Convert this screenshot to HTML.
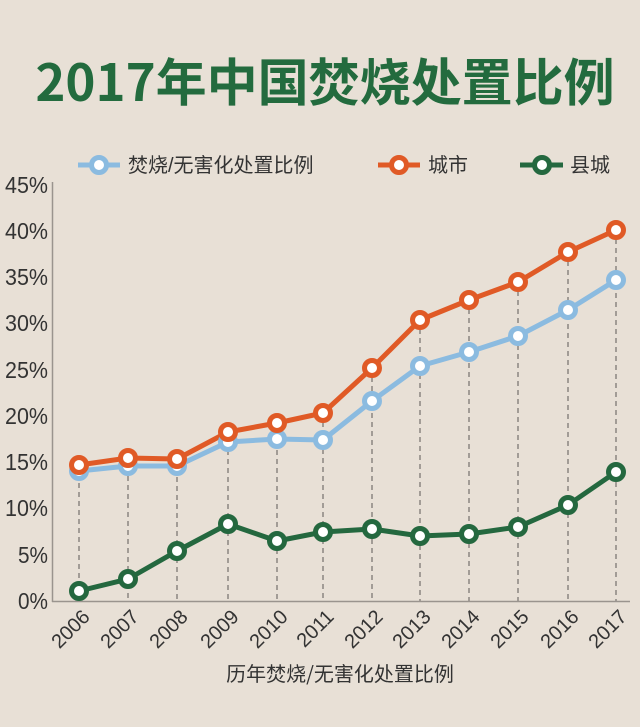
<!DOCTYPE html>
<html><head><meta charset="utf-8">
<style>
html,body{margin:0;padding:0;background:#e8e0d6;}
svg{display:block;}
text{font-family:"Liberation Sans","Noto Sans CJK SC",sans-serif;}
</style></head>
<body>
<svg width="640" height="727" viewBox="0 0 640 727" xmlns="http://www.w3.org/2000/svg">
<rect width="640" height="727" fill="#e8e0d6"/>
<text x="325" y="101" text-anchor="middle" font-size="51" font-weight="bold" fill="#236b3e" style="font-family:'Noto Sans CJK SC','Liberation Sans',sans-serif">2017年中国焚烧处置比例</text>

<!-- legend -->
<g stroke-width="5" fill="#fff">
<line x1="78" y1="165" x2="120" y2="165" stroke="#8bbbe0"/>
<circle cx="99" cy="165" r="7.5" stroke="#8bbbe0"/>
<line x1="378" y1="165" x2="420" y2="165" stroke="#e05a26"/>
<circle cx="399" cy="165" r="7.5" stroke="#e05a26"/>
<line x1="520" y1="165" x2="563" y2="165" stroke="#24683f"/>
<circle cx="542" cy="165" r="7.5" stroke="#24683f"/>
</g>
<g font-size="20" fill="#333" style="font-family:'Noto Sans CJK SC','Liberation Sans',sans-serif">
<text x="128" y="172">焚烧/无害化处置比例</text>
<text x="428" y="172">城市</text>
<text x="570" y="172">县城</text>
</g>

<!-- y labels -->
<g font-size="23" fill="#333">
<text x="5" y="193" textLength="43" lengthAdjust="spacingAndGlyphs">45%</text>
<text x="5" y="239" textLength="43" lengthAdjust="spacingAndGlyphs">40%</text>
<text x="5" y="285" textLength="43" lengthAdjust="spacingAndGlyphs">35%</text>
<text x="5" y="331" textLength="43" lengthAdjust="spacingAndGlyphs">30%</text>
<text x="5" y="378" textLength="43" lengthAdjust="spacingAndGlyphs">25%</text>
<text x="5" y="424" textLength="43" lengthAdjust="spacingAndGlyphs">20%</text>
<text x="5" y="470" textLength="43" lengthAdjust="spacingAndGlyphs">15%</text>
<text x="5" y="516" textLength="43" lengthAdjust="spacingAndGlyphs">10%</text>
<text x="18" y="563" textLength="30" lengthAdjust="spacingAndGlyphs">5%</text>
<text x="18" y="609" textLength="30" lengthAdjust="spacingAndGlyphs">0%</text>
</g>

<!-- dashed verticals -->
<g stroke="#8a8580" stroke-width="1.5" stroke-dasharray="5 4">
<line x1="79" y1="465" x2="79" y2="601"/>
<line x1="128" y1="458" x2="128" y2="601"/>
<line x1="177" y1="459" x2="177" y2="601"/>
<line x1="228" y1="432" x2="228" y2="601"/>
<line x1="277" y1="423" x2="277" y2="601"/>
<line x1="323" y1="413" x2="323" y2="601"/>
<line x1="372" y1="368" x2="372" y2="601"/>
<line x1="420" y1="320" x2="420" y2="601"/>
<line x1="469" y1="300" x2="469" y2="601"/>
<line x1="518" y1="282" x2="518" y2="601"/>
<line x1="568" y1="252" x2="568" y2="601"/>
<line x1="616" y1="230" x2="616" y2="601"/>
</g>

<!-- axes -->
<line x1="52.5" y1="182" x2="52.5" y2="602" stroke="#9a948e" stroke-width="1.5"/>
<line x1="52" y1="601.5" x2="630" y2="601.5" stroke="#9a948e" stroke-width="1.5"/>

<!-- series -->
<g fill="none" stroke-width="5" stroke-linejoin="round">
<polyline stroke="#8bbbe0" points="79,471 128,466 177,466 228,442 277,439 323,440 372,401 420,366 469,352 518,336 568,310 616,280"/>
<polyline stroke="#e05a26" points="79,465 128,458 177,459 228,432 277,423 323,413 372,368 420,320 469,300 518,282 568,252 616,230"/>
<polyline stroke="#24683f" points="79,591 128,579 177,551 228,524 277,541 323,532 372,529 420,536 469,534 518,527 568,505 616,472"/>
</g>
<g fill="#fff" stroke-width="5" stroke="#8bbbe0">
<circle cx="79" cy="471" r="7.5"/><circle cx="128" cy="466" r="7.5"/><circle cx="177" cy="466" r="7.5"/><circle cx="228" cy="442" r="7.5"/><circle cx="277" cy="439" r="7.5"/><circle cx="323" cy="440" r="7.5"/><circle cx="372" cy="401" r="7.5"/><circle cx="420" cy="366" r="7.5"/><circle cx="469" cy="352" r="7.5"/><circle cx="518" cy="336" r="7.5"/><circle cx="568" cy="310" r="7.5"/><circle cx="616" cy="280" r="7.5"/>
</g>
<g fill="#fff" stroke-width="5" stroke="#e05a26">
<circle cx="79" cy="465" r="7.5"/><circle cx="128" cy="458" r="7.5"/><circle cx="177" cy="459" r="7.5"/><circle cx="228" cy="432" r="7.5"/><circle cx="277" cy="423" r="7.5"/><circle cx="323" cy="413" r="7.5"/><circle cx="372" cy="368" r="7.5"/><circle cx="420" cy="320" r="7.5"/><circle cx="469" cy="300" r="7.5"/><circle cx="518" cy="282" r="7.5"/><circle cx="568" cy="252" r="7.5"/><circle cx="616" cy="230" r="7.5"/>
</g>
<g fill="#fff" stroke-width="5" stroke="#24683f">
<circle cx="79" cy="591" r="7.5"/><circle cx="128" cy="579" r="7.5"/><circle cx="177" cy="551" r="7.5"/><circle cx="228" cy="524" r="7.5"/><circle cx="277" cy="541" r="7.5"/><circle cx="323" cy="532" r="7.5"/><circle cx="372" cy="529" r="7.5"/><circle cx="420" cy="536" r="7.5"/><circle cx="469" cy="534" r="7.5"/><circle cx="518" cy="527" r="7.5"/><circle cx="568" cy="505" r="7.5"/><circle cx="616" cy="472" r="7.5"/>
</g>

<!-- x labels -->
<g font-size="20" fill="#333" text-anchor="end">
<text transform="translate(91,618) rotate(-45)">2006</text>
<text transform="translate(140,618) rotate(-45)">2007</text>
<text transform="translate(189,618) rotate(-45)">2008</text>
<text transform="translate(240,618) rotate(-45)">2009</text>
<text transform="translate(289,618) rotate(-45)">2010</text>
<text transform="translate(335,618) rotate(-45)">2011</text>
<text transform="translate(384,618) rotate(-45)">2012</text>
<text transform="translate(432,618) rotate(-45)">2013</text>
<text transform="translate(481,618) rotate(-45)">2014</text>
<text transform="translate(530,618) rotate(-45)">2015</text>
<text transform="translate(580,618) rotate(-45)">2016</text>
<text transform="translate(628,618) rotate(-45)">2017</text>
</g>

<text x="340" y="681" text-anchor="middle" font-size="20" fill="#333" style="font-family:'Noto Sans CJK SC','Liberation Sans',sans-serif">历年焚烧/无害化处置比例</text>
</svg>
</body></html>
